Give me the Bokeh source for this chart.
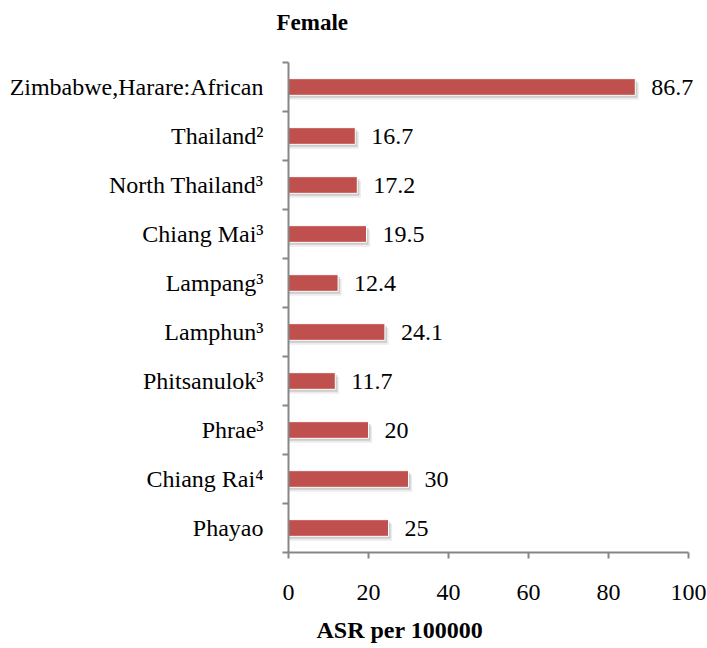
from bokeh.plotting import figure
from bokeh.models import (ColumnDataSource, Range1d, FixedTicker, LabelSet, LinearAxis, Title)
from bokeh.transform import dodge
from bokeh.embed import file_html
from bokeh.resources import INLINE

categories = ["Zimbabwe,Harare:African", "Thailand\u00b2", "North Thailand\u00b3",
              "Chiang Mai\u00b3", "Lampang\u00b3", "Lamphun\u00b3", "Phitsanulok\u00b3",
              "Phrae\u00b3", "Chiang Rai\u2074", "Phayao"]
values = [86.7, 16.7, 17.2, 19.5, 12.4, 24.1, 11.7, 20, 30, 25]
value_labels = ["86.7", "16.7", "17.2", "19.5", "12.4", "24.1", "11.7", "20", "30", "25"]
x_ticks = [0, 20, 40, 60, 80, 100]
title_text = "Female"
x_title = "ASR per 100000"

n = len(categories)
ypos = [n - i - 0.5 for i in range(n)]
bounds = [float(i) for i in range(n + 1)]

src = ColumnDataSource(dict(y=ypos, v=values, lab=value_labels))

FONT = "Liberation Serif"
AXIS_COLOR = "#878787"
BAR = "#C0504D"

# extra room to the right of 100 so the value labels are not clipped
x_end = x_ticks[-1] * 1.045

p = figure(width=707, height=648, output_backend="svg", toolbar_location=None,
           x_range=Range1d(0, x_end), y_range=Range1d(0, n),
           min_border_left=288, min_border_right=1, min_border_top=62, min_border_bottom=96)
p.outline_line_color = None
p.xgrid.visible = False
p.ygrid.visible = False
p.background_fill_color = "white"
p.border_fill_color = "white"

# shadows
p.hbar(y=dodge("y", -0.09), left=0, right=dodge("v", 0.9), height=0.34, source=src,
       fill_color="#808080", fill_alpha=0.15, line_color=None)
p.hbar(y=dodge("y", -0.05), left=0, right=dodge("v", 0.5), height=0.34, source=src,
       fill_color="#808080", fill_alpha=0.3, line_color=None)
# bars
p.hbar(y="y", left=0, right="v", height=0.34, source=src,
       fill_color=BAR, line_color="white", line_width=1)

labels = LabelSet(x="v", y="y", text="lab", source=src, x_offset=16,
                  text_baseline="middle", text_align="left",
                  text_font=FONT, text_font_size="24px", text_color="black")
p.add_layout(labels)

# x axis
xa = p.xaxis[0]
xa.bounds = (x_ticks[0], x_ticks[-1])
xa.ticker = FixedTicker(ticks=x_ticks)
xa.axis_line_color = AXIS_COLOR
xa.axis_line_width = 2
xa.major_tick_line_color = AXIS_COLOR
xa.major_tick_line_width = 2
xa.major_tick_out = 6
xa.major_tick_in = 0
xa.minor_tick_line_color = None
xa.major_label_text_font = FONT
xa.major_label_text_font_size = "24px"
xa.major_label_text_color = "black"
xa.major_label_standoff = 26

# y axis
ya = p.yaxis[0]
ya.ticker = FixedTicker(ticks=ypos, minor_ticks=bounds)
ya.major_label_overrides = {y: c for y, c in zip(ypos, categories)}
ya.axis_line_color = AXIS_COLOR
ya.axis_line_width = 2
ya.major_tick_line_color = None
ya.major_tick_out = 0
ya.major_tick_in = 0
ya.minor_tick_line_color = AXIS_COLOR
ya.minor_tick_line_width = 2
ya.minor_tick_out = 6
ya.minor_tick_in = 0
ya.major_label_text_font = FONT
ya.major_label_text_font_size = "24px"
ya.major_label_text_color = "black"
ya.major_label_standoff = 19


def spacer(px):
    # an unlabeled axis with one white (invisible) tick whose length reserves space
    return LinearAxis(ticker=FixedTicker(ticks=[x_ticks[0]]), axis_line_color=None,
                      major_tick_line_color="white", major_tick_line_width=1,
                      major_tick_out=px, major_tick_in=0,
                      minor_tick_line_color=None, minor_tick_out=0, minor_tick_in=0,
                      major_label_overrides={x_ticks[0]: ""},
                      major_label_text_font_size="1px", major_label_standoff=0)


# top: spacer next to the frame, then the chart title
p.add_layout(spacer(24), "above")
p.add_layout(Title(text=title_text, align="left", offset=-12, standoff=8,
                   vertical_align="bottom",
                   text_font=FONT, text_font_size="23px", text_font_style="bold",
                   text_color="black"), "above")
# bottom: x axis, spacer, axis title
p.add_layout(spacer(14), "below")
p.add_layout(Title(text=x_title, align="left", offset=28, standoff=0,
                   vertical_align="top",
                   text_font=FONT, text_font_size="24px", text_font_style="bold",
                   text_color="black"), "below")

open("out.html", "w").write(file_html(p, INLINE))
